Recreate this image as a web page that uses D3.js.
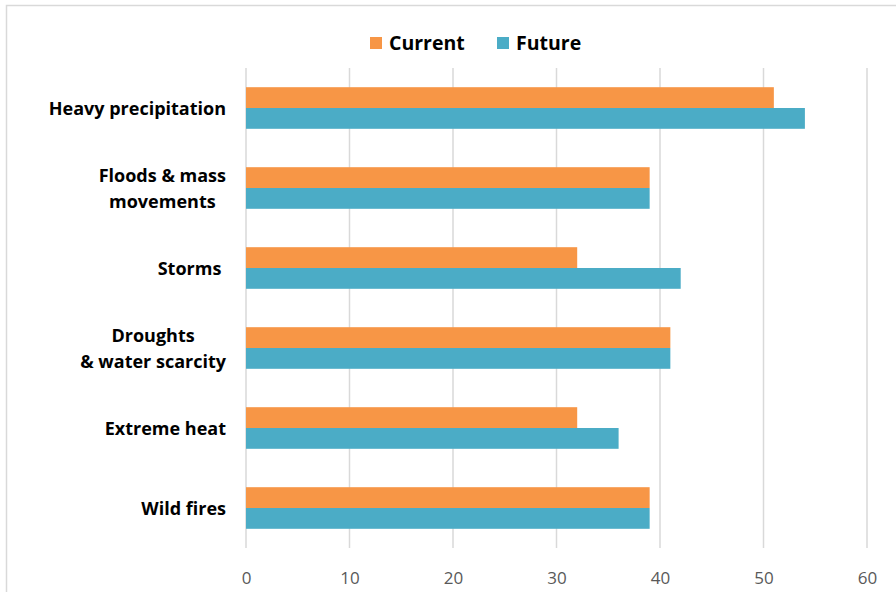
<!DOCTYPE html>
<html>
<head>
<meta charset="utf-8">
<script src="https://cdn.jsdelivr.net/npm/d3@7/dist/d3.min.js"></script>
<style>
  html, body { margin: 0; padding: 0; background: #fff; }
  svg { display: block; }
  text { font-family: "Open Sans", "Liberation Sans", sans-serif; }
</style>
</head>
<body>
<svg id="chart" width="896" height="592"></svg>
<script>
// Hazard categories (multi-line labels split on "\n")
const categories = [
  "Heavy precipitation",
  "Floods & mass\nmovements",
  "Storms ",
  "Droughts\n& water scarcity",
  "Extreme heat",
  "Wild fires"
];
const seriesNames = ["Current", "Future"];
const currentValues = [51, 39, 32, 41, 32, 39];
const futureValues  = [54, 39, 42, 41, 36, 39];
const xTicks = [0, 10, 20, 30, 40, 50, 60];

const colors = { Current: "#F79646", Future: "#4BACC6" };

const rows = categories.map((c, i) => ({
  category: c,
  Current: currentValues[i],
  Future: futureValues[i]
}));

const svg = d3.select("#chart");
const plot = { left: 246, right: 867, top: 68, bottom: 548 };

// Outer chart frame
svg.append("rect")
  .attr("x", 6.5).attr("y", 5.5)
  .attr("width", 1000).attr("height", 1000)
  .attr("fill", "none").attr("stroke", "#d9d9d9").attr("stroke-width", 1.5);

const x = d3.scaleLinear().domain([0, 60]).range([plot.left, plot.right]);
const y = d3.scaleBand().domain(categories).range([plot.top, plot.bottom]).paddingInner(0.48).paddingOuter(0.24);
const ySub = d3.scaleBand().domain(seriesNames).range([0, y.bandwidth()]);

// Vertical gridlines
svg.append("g")
  .selectAll("line")
  .data(xTicks)
  .join("line")
  .attr("x1", d => x(d)).attr("x2", d => x(d))
  .attr("y1", plot.top).attr("y2", plot.bottom)
  .attr("stroke", "#d9d9d9").attr("stroke-width", 1.5);

// Bars
const groups = svg.append("g")
  .selectAll("g")
  .data(rows)
  .join("g")
  .attr("transform", d => `translate(0,${y(d.category)})`);

groups.selectAll("rect")
  .data(d => seriesNames.map(s => ({ s, v: d[s] })))
  .join("rect")
  .attr("x", x(0))
  .attr("y", d => ySub(d.s))
  .attr("width", d => x(d.v) - x(0))
  .attr("height", ySub.bandwidth())
  .attr("fill", d => colors[d.s]);

// X axis tick labels
const xAxis = d3.axisBottom(x).tickValues(xTicks).tickSize(0).tickPadding(0).tickFormat(d3.format("d"));
const xg = svg.append("g").attr("transform", `translate(0,${plot.bottom + 36})`).call(xAxis);
xg.select(".domain").remove();
xg.selectAll("text")
  .attr("dy", 0)
  .attr("font-family", "'Open Sans', 'Liberation Sans', sans-serif")
  .attr("font-size", 17)
  .attr("fill", "#595959");

// Category labels: lines centred on each other, block right-aligned
const labelRight = 226;
const labels = svg.append("g");
rows.forEach(d => {
  const lines = d.category.split("\n");
  const cy = y(d.category) + y.bandwidth() / 2;
  const lineH = 26;
  const t = labels.append("text")
    .attr("font-size", 18)
    .attr("font-weight", "bold")
    .attr("fill", "#000")
    .style("white-space", "pre");
  const spans = lines.map((ln, i) =>
    t.append("tspan")
      .attr("x", labelRight)
      .attr("y", cy + (i - (lines.length - 1) / 2) * lineH + 6.5)
      .attr("text-anchor", "end")
      .text(ln));
  if (lines.length > 1) {
    const widths = spans.map(s => s.node().getComputedTextLength());
    const maxW = Math.max(...widths);
    const centre = labelRight - maxW / 2;
    spans.forEach(s => s.attr("x", centre).attr("text-anchor", "middle"));
  }
});

// Legend
const legend = svg.append("g").attr("transform", "translate(370,37)");
const legendItems = legend.selectAll("g")
  .data(seriesNames)
  .join("g")
  .attr("transform", (d, i) => `translate(${i * 127},0)`);
legendItems.append("rect")
  .attr("width", 12).attr("height", 12)
  .attr("fill", d => colors[d]);
legendItems.append("text")
  .attr("x", 19).attr("y", 13)
  .attr("font-size", 19.5)
  .attr("font-weight", "bold")
  .attr("fill", "#000")
  .text(d => d);
</script>
</body>
</html>
